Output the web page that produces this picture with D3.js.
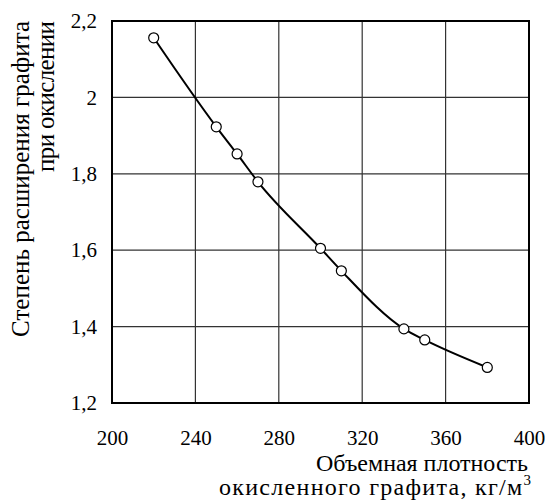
<!DOCTYPE html>
<html>
<head>
<meta charset="utf-8">
<script src="https://cdn.jsdelivr.net/npm/d3@7"></script>
</head>
<body style="margin:0;background:#fff">
<svg id="chart" width="545" height="502" style="font-family:'Liberation Serif'"></svg>
<script>
// density of oxidized graphite, kg/m3
const density = [220, 250, 260, 270, 300, 310, 340, 350, 380];
// expansion ratio on oxidation
const expansion = [2.156, 1.923, 1.852, 1.779, 1.605, 1.546, 1.394, 1.365, 1.293];
const xTicks = [200, 240, 280, 320, 360, 400];
const yTicks = [1.2, 1.4, 1.6, 1.8, 2.0, 2.2];

const width = 545, height = 502;
const margin = { top: 21, right: 16, bottom: 99, left: 112 };
const w = width - margin.left - margin.right;
const h = height - margin.top - margin.bottom;

const svg = d3.select("#chart");
const g = svg.append("g").attr("transform", `translate(${margin.left},${margin.top})`);

const x = d3.scaleLinear().domain([200, 400]).range([0, w]);
const y = d3.scaleLinear().domain([1.2, 2.2]).range([h, 0]);

const fmt = d => d3.format("~g")(d).replace(".", ",");
const font = size => `font-family:'Liberation Serif';font-size:${size}px`;

// grid
g.append("g")
  .selectAll("line")
  .data(xTicks.slice(1, -1))
  .join("line")
  .attr("x1", d => x(d)).attr("x2", d => x(d))
  .attr("y1", 0).attr("y2", h)
  .attr("stroke", "#333").attr("stroke-width", 1.2);

g.append("g")
  .selectAll("line")
  .data(yTicks.slice(1, -1))
  .join("line")
  .attr("y1", d => y(d)).attr("y2", d => y(d))
  .attr("x1", 0).attr("x2", w)
  .attr("stroke", "#333").attr("stroke-width", 1.2);

// frame
g.append("rect")
  .attr("width", w).attr("height", h)
  .attr("fill", "none").attr("stroke", "#000").attr("stroke-width", 2);

// tick labels
const xAxis = g.append("g")
  .attr("transform", `translate(0,${h})`)
  .call(d3.axisBottom(x).tickValues(xTicks).tickSize(0).tickPadding(27).tickFormat(d => d));
xAxis.attr("font-family", null).attr("font-size", null);
xAxis.select(".domain").remove();
xAxis.selectAll("text").attr("style", font(21)).attr("fill", "#000");

const yAxis = g.append("g")
  .call(d3.axisLeft(y).tickValues(yTicks).tickSize(0).tickPadding(15).tickFormat(fmt));
yAxis.attr("font-family", null).attr("font-size", null);
yAxis.select(".domain").remove();
yAxis.selectAll("text").attr("style", font(21)).attr("fill", "#000");

// line and markers
const line = d3.line()
  .x((d, i) => x(density[i]))
  .y(d => y(d))
  .curve(d3.curveMonotoneX);

g.append("path")
  .datum(expansion)
  .attr("d", line)
  .attr("fill", "none")
  .attr("stroke", "#000")
  .attr("stroke-width", 2);

g.append("g")
  .selectAll("circle")
  .data(expansion)
  .join("circle")
  .attr("cx", (d, i) => x(density[i]))
  .attr("cy", d => y(d))
  .attr("r", 5)
  .attr("fill", "#fff")
  .attr("stroke", "#000")
  .attr("stroke-width", 1.2);

// axis titles
svg.append("text")
  .attr("text-anchor", "end")
  .attr("x", 528).attr("y", 471)
  .attr("style", font(24))
  .attr("textLength", 212)
  .text("Объемная плотность");
const unit = svg.append("text")
  .attr("text-anchor", "end")
  .attr("x", 531).attr("y", 495)
  .attr("style", font(24))
  .attr("textLength", 312);
unit.append("tspan").text("окисленного графита, кг/м");
unit.append("tspan").attr("dy", -10).attr("style", font(15)).text("3");

const yt = svg.append("text")
  .attr("text-anchor", "end")
  .attr("transform", "translate(0,21) rotate(-90)")
  .attr("style", font(25));
yt.append("tspan").attr("x", 0).attr("y", 29).attr("textLength", 316).text("Степень расширения графита");
yt.append("tspan").attr("x", 0).attr("y", 54).attr("textLength", 151).text("при окислении");
</script>
</body>
</html>
